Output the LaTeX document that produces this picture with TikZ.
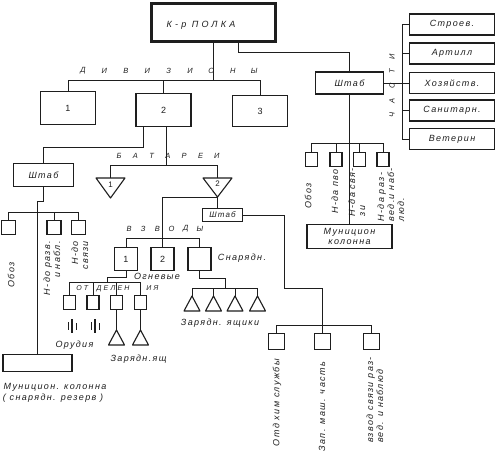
\documentclass[tikz,border=0pt]{standalone}
\usepackage{fontspec}
\setmainfont{Liberation Sans}
\newfontfamily\lab[LetterSpace=15]{Liberation Sans}
\newfontfamily\wide[LetterSpace=35]{Liberation Sans}
\definecolor{ink}{RGB}{30,30,30}
\begin{document}
\begin{tikzpicture}[x=1pt,y=-1pt,
  box/.style={draw=ink, line width=1.2pt, rectangle, inner sep=0pt},
  conn/.style={draw=ink, line width=0.7pt},
  lbl/.style={text=ink, font=\lab\itshape\fontsize{9}{10}\selectfont, inner sep=0pt},
  rl/.style={lbl, rotate=90, anchor=east},
  sp/.style={text=ink, font=\lab\itshape\fontsize{7.5}{8}\selectfont, inner sep=0pt},
  dig/.style={text=ink, font=\fontsize{9}{10}\selectfont}]
\useasboundingbox (0,0) rectangle (500,460);
\fill[white] (0,0) rectangle (500,460);

% top
\node[box, line width=2.5pt, minimum width=124pt, minimum height=38pt] (kp) at (213.5,22.5) {};
\node[text=ink, font=\wide\itshape\fontsize{9}{10}\selectfont, inner sep=0pt] (kpt) at (201,25) {К-р ПОЛКА};

% divisions
\node[box, minimum width=55pt, minimum height=33pt, dig] (d1) at (68,108) {1};
\node[box, minimum width=55pt, minimum height=33pt, dig] (d2) at (163.5,110) {2};
\node[box, minimum width=55pt, minimum height=31pt, dig] (d3) at (260,111) {3};
\coordinate (divbar) at (213.5,80);
\draw[conn] (kp.south) -- (divbar);
\draw[conn] (d1.north) |- (divbar);
\draw[conn] (d3.north) |- (divbar);
\draw[conn] (d2.north) -- (d2.north |- divbar);
\foreach \c [count=\i] in {Д,И,В,И,З,И,О,Н,Ы}
  \node[sp] (div\i) at ({83+(\i-1)*21.4},71) {\c};

% right staff and services
\node[box, minimum width=68pt, minimum height=22pt, lbl] (shR) at (349.5,83) {Штаб};
\draw[conn] ([xshift=24.5pt]kp.south) -- ++(0,10) -| (shR.north);
\foreach \t/\y/\n in {Строев./24.5/r1, Артилл/53.5/r2, Хозяйств./83/r3, Санитарн./110.5/r4, Ветерин/139/r5}
  \node[box, minimum width=85pt, minimum height=21pt, lbl] (\n) at (452,\y) {\t};
\draw[conn] (r1.west) -- ++(-7,0) |- (r5.west);
\foreach \n in {r2,r3,r4} \draw[conn] (\n.west) -- ++(-7,0);
\draw[conn] (shR.east) -- (shR.east -| r3.west);
\foreach \c [count=\i] in {Ч,А,С,Т,И}
  \node[sp, rotate=90] (ch\i) at (392,{115-(\i-1)*14.5}) {\c};

\foreach \x [count=\i] in {311.5,336,359.5,383}
  \node[box, minimum width=12pt, minimum height=14pt] (sR\i) at (\x,159.5) {};
\node[box, minimum width=85pt, minimum height=24pt, lbl, align=center] (mkR) at (349.5,236.5) {Муницион\\колонна};
\draw[conn] (shR.south) -- (mkR.north);
\draw[conn] (sR1.north) -- ++(0,-9) -| (sR4.north);
\draw[conn] (sR2.north) -- ++(0,-9);
\draw[conn] (sR3.north) -- ++(0,-9);
\node[rl] (lR1) at (308,183) {Обоз};
\node[rl] (lR2) at (335,169) {Н-да пво};
\node[rl, align=left] (lR3) at (357,168) {Н-да свя-\\зи};
\node[rl, align=left] (lR4) at (391,168) {Н-да раз-\\вед.и наб-\\люд.};

% left staff
\node[box, minimum width=60pt, minimum height=23pt, lbl] (shL) at (43.5,175) {Штаб};
\draw[conn] ([xshift=-20.5pt]d2.south) -- ++(0,20) -| (shL.north);
\node[box, minimum width=14pt, minimum height=14pt] (sL1) at (8.5,227.5) {};
\node[box, minimum width=14pt, minimum height=14pt] (sL2) at (54,227.5) {};
\node[box, minimum width=14pt, minimum height=14pt] (sL3) at (78.5,227.5) {};
\draw[conn] (sL1.north) -- ++(0,-8) -| (sL3.north);
\draw[conn] (sL2.north) -- ++(0,-8);
\node[box, minimum width=69pt, minimum height=17pt] (mkL) at (37.5,363) {};
\draw[conn] (shL.south) -- ++(0,14) -| (mkL.north);
\node[lbl, rotate=90] (lL1) at (11,275) {Обоз};
\node[rl, align=right] (lL2) at (52,241) {Н-до разв.\\и набл.};
\node[rl, align=right] (lL3) at (80,241) {Н-до\\связи};
\node[lbl] (mkLt1) at (55,387) {Муницион. колонна};
\node[lbl] (mkLt2) at (53,398) {( снарядн. резерв )};

% batteries
\coordinate (t1n) at (110.5,178); \coordinate (t1s) at (110.5,198);
\coordinate (t2n) at (217.5,178); \coordinate (t2s) at (217.5,197);
\draw[ink, line width=1.1pt, line join=round] (96,178) -- (125,178) -- (t1s) -- cycle;
\draw[ink, line width=1.1pt, line join=round] (203,178) -- (232,178) -- (t2s) -- cycle;
\node[dig, font=\fontsize{8}{9}\selectfont] (t1l) at (110.5,185) {1};
\node[dig, font=\fontsize{8}{9}\selectfont] (t2l) at (217.5,184) {2};
\draw[conn] (t1n) -- ++(0,-13) -| (t2n);
\draw[conn] ([xshift=2.5pt]d2.south) -- ++(0,38);
\foreach \c [count=\i] in {Б,А,Т,А,Р,Е,И}
  \node[sp] (bat\i) at ({119+(\i-1)*16.3},156) {\c};

% platoons
\node[box, line width=1.8pt, minimum width=40pt, minimum height=13pt, lbl, font=\lab\itshape\fontsize{8}{8}\selectfont] (shM) at (222.5,215) {Штаб};
\draw[conn] (t2s) -- (t2s |- shM.north);
\node[box, minimum width=23pt, minimum height=23pt, dig] (v1) at (126,259) {1};
\node[box, minimum width=23pt, minimum height=23pt, dig] (v2) at (162.5,259) {2};
\node[box, minimum width=23pt, minimum height=23pt] (v3) at (199.5,259) {};
\draw[conn] (t2s) -| (v2.north);
\draw[conn] (v1.north) -- ++(0,-9) -| (v3.north);
\foreach \c [count=\i] in {В,З,В,О,Д,Ы}
  \node[sp] (vz\i) at ({129+(\i-1)*14.2},229) {\c};
\node[lbl] (ogn) at (157,276) {Огневые};
\node[lbl] (snar) at (242,258) {Снарядн.};

% sections
\foreach \x [count=\i] in {69.5,93,116.5,140.5}
  \node[box, minimum width=12pt, minimum height=14pt] (o\i) at (\x,302.5) {};
\coordinate (obar) at (107,282);
\draw[conn] (v1.south) -- ++(0,6) -| (obar);
\draw[conn] (o1.north) -- ++(0,-13) -| (o4.north);
\draw[conn] (o2.north) -- ++(0,-13);
\draw[conn] (o3.north) -- ++(0,-13);
\foreach \c/\x [count=\i] in {О/79,Т/86,Д/99,Е/106,Л/113,Е/120,Н/127,И/149,Я/156}
  \node[sp, font=\lab\itshape\fontsize{7}{7}\selectfont] (ot\i) at (\x,288.5) {\c};
\foreach \x in {72,95} {
  \draw[ink, line width=1.3pt] (\x,319) -- (\x,333);
  \draw[ink, line width=0.7pt] ({\x-4},322) -- ({\x-4},330);
  \draw[ink, line width=0.7pt] ({\x+4},323) -- ({\x+4},330);
}
\node[lbl] (orud) at (74.5,345) {Орудия};
\foreach \x/\n in {116.5/z1,140.5/z2} {
  \coordinate (\n) at (\x,330);
  \draw[ink, line width=1.1pt, line join=round] (\n) -- ({\x+8},345) -- ({\x-8},345) -- cycle;
}
\draw[conn] (o3.south) -- (z1);
\draw[conn] (o4.south) -- (z2);
\node[lbl] (zarl) at (138.5,359) {Зарядн.ящ};

% ammunition boxes
\coordinate (ab) at (225,288);
\draw[conn] (v3.south) -- ++(0,7) -| (ab);
\foreach \x [count=\i] in {192,213.5,235,257.5} {
  \coordinate (a\i) at (\x,296);
  \draw[ink, line width=1.1pt, line join=round] (a\i) -- ({\x+8},311) -- ({\x-8},311) -- cycle;
}
\draw[conn] (a1) -- ++(0,-8) -| (a4);
\draw[conn] (a2) -- ++(0,-8);
\draw[conn] (a3) -- ++(0,-8);
\node[lbl] (zar) at (220,323) {Зарядн. ящики};

% staff subunits
\node[box, minimum width=16pt, minimum height=16pt] (b1) at (276.5,341.5) {};
\node[box, minimum width=16pt, minimum height=16pt] (b2) at (322.5,341.5) {};
\node[box, minimum width=16pt, minimum height=16pt] (b3) at (371.5,341.5) {};
\coordinate (rb) at (322.5,288);
\draw[conn] (shM.east) -- ++(40.5,0) |- (rb);
\draw[conn] (b2.north) -- (rb);
\draw[conn] (b1.north) -- ++(0,-8) -| (b3.north);
\node[rl] (lb1) at (277,359) {Отд хим службы};
\node[rl] (lb2) at (322,362) {Зап. маш. часть};
\node[rl, align=left] (lb3) at (375,357) {взвод связи раз-\\вед. и наблюд};
\end{tikzpicture}
\end{document}
